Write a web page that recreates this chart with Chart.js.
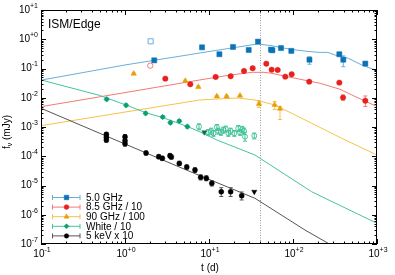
<!DOCTYPE html>
<html>
<head>
<meta charset="utf-8">
<script src="https://cdn.jsdelivr.net/npm/chart.js@4.4.0/dist/chart.umd.min.js"></script>
<style>
  html, body { margin: 0; padding: 0; background: #fff; }
  canvas { display: block; }
</style>
</head>
<body>
<canvas id="lightCurve" width="395" height="275"></canvas>
<script>
// t in days, flux density in mJy (scaled as written in the legend)

// 5.0 GHz
const radio5T  = [2.23, 8.26, 13.3, 19.3, 29.7, 38.3, 54.7, 56.8, 72, 95.5, 157, 356, 397, 726];
const radio5F  = [0.19, 0.53, 0.307, 0.545, 0.43, 0.83, 0.44, 0.42, 0.50, 0.40, 0.20, 0.307, 0.20, 0.147];
const radio5Lo = [0.18, 0.50, 0.29, 0.52, 0.41, 0.79, 0.42, 0.40, 0.47, 0.38, 0.14, 0.27, 0.115, 0.135];
const radio5Hi = [0.20, 0.56, 0.325, 0.57, 0.45, 0.87, 0.46, 0.44, 0.53, 0.42, 0.25, 0.35, 0.27, 0.16];
const radio5ExclT = [2.02];
const radio5ExclF = [0.85];

// 8.5 GHz / 10
const radio8T  = [3.02, 5.99, 12.0, 18.1, 26.1, 33.1, 48.1, 55.7, 65.7, 80.9, 96.4, 156, 356, 394, 726];
const radio8F  = [0.045, 0.0289, 0.0514, 0.0543, 0.0824, 0.102, 0.146, 0.091, 0.089, 0.0526, 0.0635, 0.0355, 0.0328, 0.0101, 0.0079];
const radio8Lo = [0.042, 0.027, 0.048, 0.051, 0.077, 0.095, 0.136, 0.085, 0.083, 0.049, 0.059, 0.033, 0.030, 0.0083, 0.0050];
const radio8Hi = [0.048, 0.031, 0.055, 0.058, 0.088, 0.109, 0.156, 0.097, 0.095, 0.056, 0.068, 0.038, 0.035, 0.0125, 0.0115];
const radio8ExclT = [2.0];
const radio8ExclF = [0.125];

// 90 GHz / 100
const mmT  = [1.27, 5.22, 7.46, 12.4, 16.2, 23.4, 39.4, 60.5, 70];
const mmF  = [0.0667, 0.0375, 0.0234, 0.0112, 0.0112, 0.0118, 0.0062, 0.0057, 0.0042];
const mmLo = [0.062, 0.035, 0.022, 0.0105, 0.0105, 0.011, 0.0047, 0.0040, 0.0018];
const mmHi = [0.071, 0.040, 0.025, 0.0119, 0.0119, 0.0126, 0.0079, 0.0075, 0.0050];

// White / 10
const whiteT  = [0.605, 1.03, 1.76, 2.81, 3.47, 4.43, 5.52];
const whiteF  = [0.00887, 0.00553, 0.00294, 0.0022, 0.00141, 0.0016, 0.00103];
const whiteLo = [0.0079, 0.0049, 0.0026, 0.00195, 0.00125, 0.00142, 0.00091];
const whiteHi = [0.0099, 0.0062, 0.0033, 0.00246, 0.00158, 0.00179, 0.00115];
const whiteLateT  = [7.6, 9.8, 10.6, 11.3, 12.4, 12.9, 13.9, 14.8, 15.8, 17.0, 18.1, 20.0, 22.3, 23.4, 24.9, 26.1, 26.8, 34.6];
const whiteLateF  = [1.03e-3, 6.6e-4, 7.3e-4, 6.1e-4, 9.8e-4, 7.3e-4, 6.6e-4, 7.9e-4, 8.6e-4, 6.1e-4, 7.3e-4, 6.1e-4, 9.0e-4, 6.6e-4, 8.4e-4, 7.3e-4, 4.7e-4, 5.0e-4];
const whiteLateLo = [8.0e-4, 5.2e-4, 5.7e-4, 4.8e-4, 7.7e-4, 5.7e-4, 5.2e-4, 6.2e-4, 6.7e-4, 4.8e-4, 5.7e-4, 4.8e-4, 7.0e-4, 5.2e-4, 6.6e-4, 5.7e-4, 3.3e-4, 3.9e-4];
const whiteLateHi = [1.28e-3, 8.2e-4, 9.1e-4, 7.6e-4, 1.22e-3, 9.1e-4, 8.2e-4, 9.9e-4, 1.07e-3, 7.6e-4, 9.1e-4, 7.6e-4, 1.12e-3, 8.2e-4, 1.05e-3, 9.1e-4, 6.5e-4, 6.2e-4];
const whiteLimitT = [8.8];
const whiteLimitF = [6.6e-4];

// 5 keV x 10
const xrayT  = [0.6, 0.6, 0.6, 1.0, 1.0, 1.0, 1.78, 2.52, 2.78, 3.43, 3.56, 4.43, 5.43, 6.81, 7.96, 9.29, 10.8, 14.0, 18.1, 24.5];
const xrayF  = [5.6e-4, 4.5e-4, 3.6e-4, 4.6e-4, 3.4e-4, 2.7e-4, 1.29e-4, 9.7e-5, 8.5e-5, 1.05e-4, 9.4e-5, 5.7e-5, 4.3e-5, 3.4e-5, 1.9e-5, 1.77e-5, 1.19e-5, 6.1e-6, 6.1e-6, 4.5e-6];
const xrayLo = [4.8e-4, 3.8e-4, 3.0e-4, 3.8e-4, 2.8e-4, 2.2e-4, 1.1e-4, 8.2e-5, 7.2e-5, 8.9e-5, 8.0e-5, 4.8e-5, 3.6e-5, 2.8e-5, 1.55e-5, 1.45e-5, 9.6e-6, 4.2e-6, 4.2e-6, 3.2e-6];
const xrayHi = [6.5e-4, 5.2e-4, 4.2e-4, 5.5e-4, 4.0e-4, 3.2e-4, 1.5e-4, 1.13e-4, 9.9e-5, 1.23e-4, 1.1e-4, 6.7e-5, 5.0e-5, 4.0e-5, 2.3e-5, 2.15e-5, 1.45e-5, 8.4e-6, 8.4e-6, 6.0e-6];
const xrayLimitT = [34.6];
const xrayLimitF = [6.1e-6];

// model curves
const model5T = [0.1, 1, 10, 38, 55, 72, 95, 155, 210, 260, 315, 455, 658, 1000];
const model5F = [0.040, 0.132, 0.38, 0.69, 0.605, 0.52, 0.45, 0.38, 0.355, 0.355, 0.29, 0.224, 0.132, 0.084];
const model8T = [0.1, 1, 7.8, 18, 33, 45, 55, 81, 106, 210, 363, 500, 1000];
const model8F = [0.00495, 0.0150, 0.0406, 0.060, 0.074, 0.074, 0.069, 0.054, 0.0464, 0.0313, 0.0195, 0.0125, 0.0050];
const modelMmT = [0.1, 1, 7.8, 22, 35.3, 61, 167, 380, 1000];
const modelMmF = [0.00111, 0.00324, 0.0084, 0.0098, 0.0084, 0.00566, 0.00134, 0.00041, 0.00011];
const modelWhiteT = [0.1, 0.5, 1.0, 1.76, 2.8, 5.5, 7.8, 12.4, 35.3, 167, 1000];
const modelWhiteF = [0.0406, 0.012, 0.0058, 0.0031, 0.0021, 0.00105, 0.00068, 0.00036, 0.00011, 6.1e-6, 5.1e-7];
const modelXrayT = [0.1, 0.5, 5.94, 35.3, 139, 263];
const modelXrayF = [0.00437, 6.1e-4, 3.0e-5, 3.65e-6, 3.0e-7, 1.05e-7];

const bandNames = ['5.0 GHz', '8.5 GHz / 10', '90 GHz / 100', 'White / 10', '5 keV x 10'];
const breakTime = 40;
const xTickExp = [-1, 0, 1, 2, 3];
const yTickExp = [-7, -6, -5, -4, -3, -2, -1, 0, 1];

// styles
const markColor = ['#0b72b5', '#e8211d', '#e89e0a', '#0a9e74', '#000000'];
const lineColor = ['#6aaedb', '#f27a76', '#f5c24a', '#45c39b', '#555555'];
const markStyle = ['rect', 'circle', 'triangle', 'rectRot', 'circle'];
const markRadius = [3.6, 2.7, 3.2, 2.8, 2.5];
const fontFamily = '"Liberation Sans", Arial, sans-serif';

const pts = (ts, fs) => ts.map((t, i) => ({ x: t, y: fs[i] }));

const errorSets = [
    { t: radio5T, lo: radio5Lo, hi: radio5Hi, band: 0 },
    { t: radio8T, lo: radio8Lo, hi: radio8Hi, band: 1 },
    { t: mmT, lo: mmLo, hi: mmHi, band: 2 },
    { t: whiteT, lo: whiteLo, hi: whiteHi, band: 3 },
    { t: whiteLateT, lo: whiteLateLo, hi: whiteLateHi, band: 3 },
    { t: xrayT, lo: xrayLo, hi: xrayHi, band: 4 }
];

function markSet(t, f, band, extra) {
    return Object.assign({
        data: pts(t, f),
        showLine: false,
        pointStyle: markStyle[band],
        pointRadius: markRadius[band],
        pointBackgroundColor: markColor[band],
        pointBorderColor: markColor[band],
        pointBorderWidth: 0.5,
        order: 1
    }, extra || {});
}

function modelSet(t, f, band) {
    return {
        data: pts(t, f),
        showLine: true,
        pointRadius: 0,
        borderColor: lineColor[band],
        borderWidth: 1,
        fill: false,
        tension: 0,
        order: 3
    };
}

function drawPower(ctx, exp, x, y, align) {
    const base = '10';
    const sup = (exp >= 0 ? '+' : '') + exp;
    ctx.font = '10px ' + fontFamily;
    const wb = ctx.measureText(base).width;
    ctx.font = '7px ' + fontFamily;
    const ws = ctx.measureText(sup).width;
    const x0 = align === 'right' ? x - wb - ws : x - (wb + ws) / 2;
    ctx.textAlign = 'left';
    ctx.textBaseline = 'middle';
    ctx.font = '10px ' + fontFamily;
    ctx.fillText(base, x0, y);
    ctx.font = '7px ' + fontFamily;
    ctx.fillText(sup, x0 + wb, y - 4);
}

const errorBars = {
    id: 'errorBars',
    beforeDatasetsDraw(chart) {
        const ctx = chart.ctx;
        const xs = chart.scales.x, ys = chart.scales.y;
        const area = chart.chartArea;
        ctx.save();
        ctx.beginPath();
        ctx.rect(area.left, area.top, area.right - area.left, area.bottom - area.top);
        ctx.clip();

        // vertical dotted line
        const bx = Math.round(xs.getPixelForValue(breakTime)) + 0.5;
        ctx.strokeStyle = '#9a9a9a';
        ctx.lineWidth = 1;
        ctx.setLineDash([1, 1.5]);
        ctx.beginPath();
        ctx.moveTo(bx, area.top);
        ctx.lineTo(bx, area.bottom);
        ctx.stroke();
        ctx.setLineDash([]);

        errorSets.forEach(set => {
            ctx.strokeStyle = lineColor[set.band];
            ctx.lineWidth = 1;
            set.t.forEach((t, i) => {
                const px = xs.getPixelForValue(t);
                const y1 = ys.getPixelForValue(set.lo[i]);
                const y2 = ys.getPixelForValue(set.hi[i]);
                ctx.beginPath();
                ctx.moveTo(px, y1);
                ctx.lineTo(px, y2);
                ctx.moveTo(px - 2, y1);
                ctx.lineTo(px + 2, y1);
                ctx.moveTo(px - 2, y2);
                ctx.lineTo(px + 2, y2);
                ctx.stroke();
            });
        });
        ctx.restore();
    },
    afterDatasetsDraw(chart) {
        const ctx = chart.ctx;
        const xs = chart.scales.x, ys = chart.scales.y;
        const { left, right, top, bottom } = chart.chartArea;
        ctx.save();
        ctx.strokeStyle = '#000';
        ctx.fillStyle = '#000';
        ctx.lineWidth = 1;

        // frame
        ctx.strokeRect(left + 0.5, top + 0.5, right - left - 1, bottom - top - 1);

        // ticks
        ctx.beginPath();
        xTickExp.forEach(e => {
            for (let k = 1; k <= 9; k++) {
                if (e === xTickExp[xTickExp.length - 1] && k > 1) break;
                const px = Math.round(xs.getPixelForValue(k * Math.pow(10, e))) + 0.5;
                const len = k === 1 ? 5 : 2.5;
                ctx.moveTo(px, bottom);
                ctx.lineTo(px, bottom - len);
                ctx.moveTo(px, top);
                ctx.lineTo(px, top + len);
            }
        });
        yTickExp.forEach(e => {
            for (let k = 1; k <= 9; k++) {
                if (e === yTickExp[yTickExp.length - 1] && k > 1) break;
                const py = Math.round(ys.getPixelForValue(k * Math.pow(10, e))) + 0.5;
                const len = k === 1 ? 5 : 2.5;
                ctx.moveTo(left, py);
                ctx.lineTo(left + len, py);
                ctx.moveTo(right, py);
                ctx.lineTo(right - len, py);
            }
        });
        ctx.stroke();

        // tick labels
        xTickExp.forEach(e => drawPower(ctx, e, xs.getPixelForValue(Math.pow(10, e)) + 1, bottom + 10, 'center'));
        yTickExp.forEach(e => drawPower(ctx, e, left - 3, ys.getPixelForValue(Math.pow(10, e)), 'right'));

        // axis titles
        ctx.font = '10px ' + fontFamily;
        ctx.textAlign = 'center';
        ctx.textBaseline = 'middle';
        ctx.fillText('t (d)', (left + right) / 2 + 1, 268);

        ctx.save();
        ctx.translate(7, 132);
        ctx.rotate(-Math.PI / 2);
        ctx.textAlign = 'left';
        const wf = ctx.measureText('f').width;
        ctx.font = '7px ' + fontFamily;
        const wn = ctx.measureText('\u03BD').width;
        ctx.font = '10px ' + fontFamily;
        const wr = ctx.measureText(' (mJy)').width;
        let tx = -(wf + wn + wr) / 2;
        ctx.fillText('f', tx, 0);
        ctx.font = '7px ' + fontFamily;
        ctx.fillText('\u03BD', tx + wf, 3);
        ctx.font = '10px ' + fontFamily;
        ctx.fillText(' (mJy)', tx + wf + wn, 0);
        ctx.restore();

        // panel label
        ctx.font = '12px ' + fontFamily;
        ctx.textAlign = 'left';
        ctx.textBaseline = 'alphabetic';
        ctx.fillText('ISM/Edge', 48, 28);

        // legend
        bandNames.forEach((name, i) => {
            const y = 197.5 + i * 9.6;
            ctx.strokeStyle = lineColor[i];
            ctx.beginPath();
            ctx.moveTo(52.5, y);
            ctx.lineTo(80, y);
            ctx.moveTo(52.5, y - 2.5);
            ctx.lineTo(52.5, y + 2.5);
            ctx.moveTo(80, y - 2.5);
            ctx.lineTo(80, y + 2.5);
            ctx.stroke();
            ctx.fillStyle = markColor[i];
            ctx.strokeStyle = markColor[i];
            ctx.lineWidth = 0.5;
            Chart.helpers.drawPoint(ctx, {
                pointStyle: markStyle[i],
                radius: markRadius[i] * 0.9,
                rotation: 0,
                borderWidth: 0.5
            }, 66.5, y);
            ctx.lineWidth = 1;
            ctx.fillStyle = '#000';
            ctx.font = '10px ' + fontFamily;
            ctx.textAlign = 'left';
            ctx.textBaseline = 'middle';
            ctx.fillText(name, 86, y + 0.5);
        });
        ctx.restore();
    }
};

new Chart(document.getElementById('lightCurve'), {
    type: 'scatter',
    data: {
        datasets: [
            markSet(xrayLimitT, xrayLimitF, 4, { pointStyle: 'triangle', pointRotation: 180, pointRadius: 3 }),
            markSet(whiteLimitT, whiteLimitF, 3, { pointStyle: 'triangle', pointRotation: 180, pointRadius: 3, pointBackgroundColor: '#0d6b55', pointBorderColor: '#0d6b55' }),
            markSet(radio5ExclT, radio5ExclF, 0, { pointBackgroundColor: 'rgba(0,0,0,0)', pointBorderColor: lineColor[0], pointBorderWidth: 1 }),
            markSet(radio8ExclT, radio8ExclF, 1, { pointBackgroundColor: 'rgba(0,0,0,0)', pointBorderColor: lineColor[1], pointBorderWidth: 1 }),
            markSet(xrayT, xrayF, 4),
            markSet(whiteLateT, whiteLateF, 3, { pointStyle: 'circle', pointRadius: 2.5, pointBackgroundColor: 'rgba(0,0,0,0)', pointBorderColor: lineColor[3], pointBorderWidth: 1 }),
            markSet(whiteT, whiteF, 3),
            markSet(mmT, mmF, 2),
            markSet(radio8T, radio8F, 1),
            markSet(radio5T, radio5F, 0),
            modelSet(modelXrayT, modelXrayF, 4),
            modelSet(modelWhiteT, modelWhiteF, 3),
            modelSet(modelMmT, modelMmF, 2),
            modelSet(model8T, model8F, 1),
            modelSet(model5T, model5F, 0)
        ]
    },
    options: {
        responsive: false,
        animation: false,
        devicePixelRatio: 1,
        layout: { padding: { left: 41, right: 18, top: 10, bottom: 31 } },
        scales: {
            x: { type: 'logarithmic', min: 0.1, max: 1000, display: false },
            y: { type: 'logarithmic', min: 1e-7, max: 10, display: false }
        },
        plugins: {
            legend: { display: false },
            tooltip: { enabled: false }
        }
    },
    plugins: [errorBars]
});
</script>
</body>
</html>
